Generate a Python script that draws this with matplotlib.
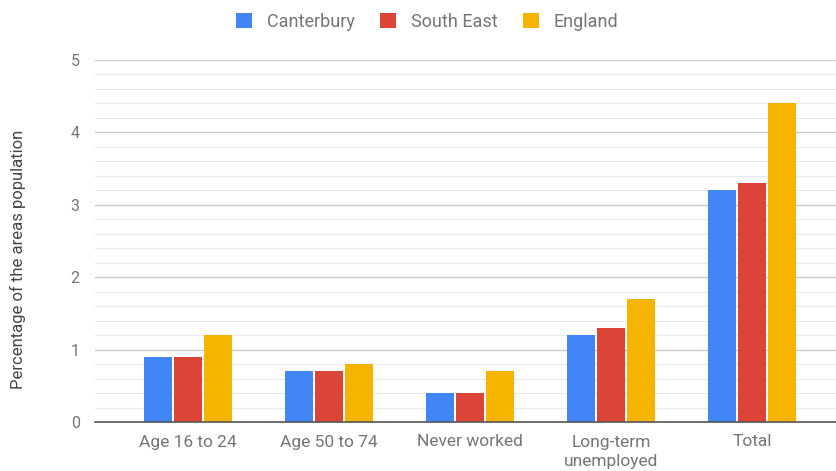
import numpy as np
import matplotlib.pyplot as plt
from matplotlib.patches import Patch

plt.rcParams['font.family'] = ['Roboto', 'DejaVu Sans']

categories = ['Age 16 to 24', 'Age 50 to 74', 'Never worked', 'Long-term\nunemployed', 'Total']
series = ['Canterbury', 'South East', 'England']
canterbury = [0.9, 0.7, 0.4, 1.2, 3.2]
south_east = [0.9, 0.7, 0.4, 1.3, 3.3]
england = [1.2, 0.8, 0.7, 1.7, 4.4]
colors = ['#4285F4', '#DB4437', '#F4B400']

W, H = 837, 471
fig = plt.figure(figsize=(W / 100, H / 100), dpi=100)
ax = fig.add_axes([95 / W, 49 / H, (W - 95) / W, 362 / H])

x = np.arange(len(categories))
width = 0.2
step = 30 / 141
for i, (vals, col) in enumerate(zip([canterbury, south_east, england], colors)):
    ax.bar(x + (i - 1) * step, vals, width, color=col, zorder=3)

ax.set_ylim(0, 5)
ax.set_xlim(-0.66, 4.6)
ax.set_yticks(range(6))
ax.set_yticks(np.arange(0, 5.01, 0.2), minor=True)
ax.yaxis.grid(True, which='major', color='#cccccc', lw=1, zorder=0)
ax.yaxis.grid(True, which='minor', color='#ebebeb', lw=1, zorder=0)
ax.tick_params(axis='y', which='both', length=0, pad=11, labelsize=11.5, labelcolor='#757575')
ax.set_xticks(x)
ax.set_xticklabels(categories, fontsize=12.5, color='#757575', linespacing=1.4)
ax.tick_params(axis='x', length=0, pad=9)

for s in ['top', 'right', 'left']:
    ax.spines[s].set_visible(False)
ax.spines['bottom'].set_color('#555555')
ax.spines['bottom'].set_linewidth(1.2)
ax.spines['bottom'].set_zorder(4)

fig.text(18 / W, 1 - 259 / H, 'Percentage of the areas population', rotation=90,
         ha='center', va='center', fontsize=12, color='#444444')

handles = [Patch(facecolor=c, edgecolor='none') for c in colors]
fig.legend(handles, series, loc='center', bbox_to_anchor=(427 / W, 1 - 22 / H), ncol=3,
           frameon=False, fontsize=13, labelcolor='#757575', handlelength=0.9,
           handleheight=0.9, handletextpad=0.8, columnspacing=1.4)

fig.savefig('out.png', dpi=100)
